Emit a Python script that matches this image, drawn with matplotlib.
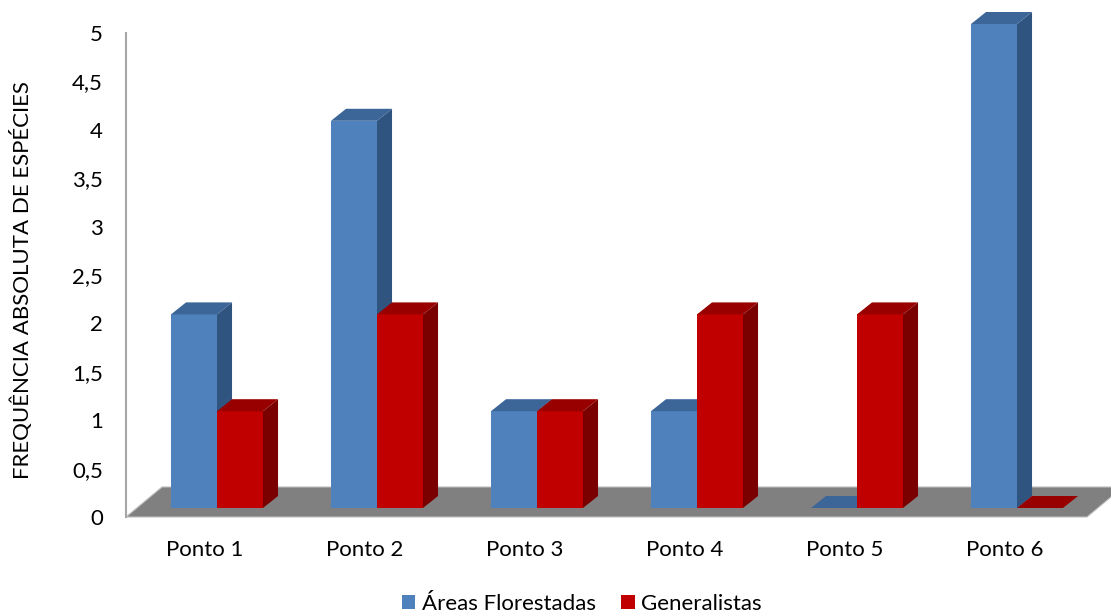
import matplotlib
matplotlib.use("Agg")
import matplotlib.pyplot as plt
from matplotlib.patches import Polygon, Patch

plt.rcParams['font.family'] = ['Lato', 'DejaVu Sans']

categories = ["Ponto 1", "Ponto 2", "Ponto 3", "Ponto 4", "Ponto 5", "Ponto 6"]
areas_florestadas = [2, 4, 1, 1, 0, 5]
generalistas = [1, 2, 1, 2, 2, 0]
series_names = ["Áreas Florestadas", "Generalistas"]
yticks = [0, 0.5, 1, 1.5, 2, 2.5, 3, 3.5, 4, 4.5, 5]
ytick_labels = ["0", "0,5", "1", "1,5", "2", "2,5", "3", "3,5", "4", "4,5", "5"]

# face colours: front, side, top
blue = ("#4f81bd", "#2f5480", "#3c6598")
red = ("#c00000", "#7a0000", "#980000")

FS = 16

W, H = 1111, 615
fig = plt.figure(figsize=(W / 100, H / 100), dpi=100)
ax = fig.add_axes([126 / W, (H - 517) / H, (W - 126) / W, 484 / H])
ax.set_ylim(0, 5)
ax.set_xlim(-0.56875, 5.5875)

# pseudo-3D geometry (data units)
bw = 0.2875      # bar width
dx = 0.094       # depth shift along x
dy = 0.124       # depth shift along y
lift = 0.093     # front face baseline above the floor edge
fdx, fdy = 0.225, 0.31   # floor depth

# floor
n = len(categories)
floor = Polygon([(-0.56875, 0), (5.4375, 0), (5.4375 + fdx, fdy), (-0.56875 + fdx, fdy)],
                closed=True, facecolor="#808080", edgecolor="#bfbfbf", lw=0.8,
                clip_on=False, zorder=1)
ax.add_patch(floor)

z = 2
for i in range(n):
    for vals, cols, x0 in ((areas_florestadas, blue, i - bw), (generalistas, red, i)):
        v = vals[i]
        ax.bar([x0], [v], width=bw, bottom=lift, align="edge",
               color=cols[0], linewidth=0, zorder=z, clip_on=False)
        side = Polygon([(x0 + bw, lift), (x0 + bw + dx, lift + dy),
                        (x0 + bw + dx, lift + v + dy), (x0 + bw, lift + v)],
                       closed=True, facecolor=cols[1], lw=0, zorder=z, clip_on=False)
        top = Polygon([(x0, lift + v), (x0 + dx, lift + v + dy),
                       (x0 + bw + dx, lift + v + dy), (x0 + bw, lift + v)],
                      closed=True, facecolor=cols[2], lw=0, zorder=z, clip_on=False)
        ax.add_patch(side)
        ax.add_patch(top)
        z += 1

# axes styling
for s in ("top", "right", "bottom"):
    ax.spines[s].set_visible(False)
ax.spines["left"].set_color("#a6a6a6")
ax.spines["left"].set_linewidth(1.5)
ax.set_yticks(yticks)
ax.set_yticklabels(ytick_labels)
ax.tick_params(axis="y", length=0, pad=16.5, labelsize=FS, labelcolor="#000000")
ax.set_xticks([])
ax.patch.set_visible(False)

for i, name in enumerate(categories):
    ax.annotate(name, xy=(i, 0), xycoords="data", xytext=(-12, -33),
                textcoords="offset pixels", ha="center", va="center",
                fontsize=FS, color="#000000", annotation_clip=False)

fig.text(22 / W, 1 - 280 / H, "FREQUÊNCIA ABSOLUTA DE ESPÉCIES", rotation=90,
         ha="center", va="center", fontsize=FS, color="#000000")

handles = [Patch(facecolor=blue[0], edgecolor="none"),
           Patch(facecolor=red[0], edgecolor="none")]
fig.legend(handles, series_names, loc="center", bbox_to_anchor=(582 / W, 1 - 604 / H),
           ncol=2, frameon=False, fontsize=FS, handlelength=0.6, handleheight=0.6,
           handletextpad=0.3, columnspacing=1.15, borderpad=0)

fig.savefig("out.png", dpi=100)
